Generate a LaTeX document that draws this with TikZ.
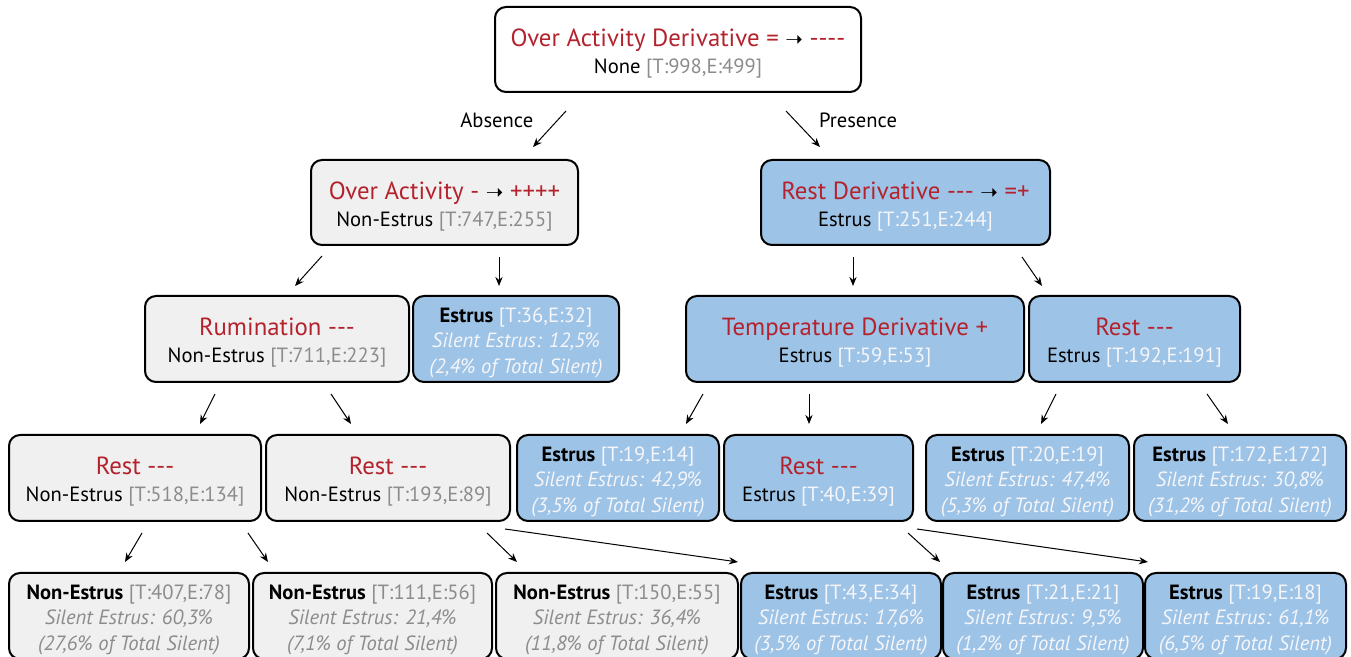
\documentclass[tikz,border=0pt]{standalone}
\usepackage{fontspec}
\setmainfont{PT Sans}
\newfontfamily\symfont{DejaVu Sans}
\usetikzlibrary{arrows.meta,calc}
\definecolor{tred}{RGB}{180,35,45}
\definecolor{gfill}{RGB}{240,240,240}
\definecolor{bfill}{RGB}{157,195,230}
\definecolor{gtext}{RGB}{140,140,140}
\definecolor{wtext}{RGB}{246,246,250}
\newcommand\arr{{\color{black}\symfont\fontsize{10.5}{10}\selectfont ➝}}
\newcommand\ttlfont{\fontsize{12.4}{13}\selectfont}
\newcommand\mthree{-{}-{}-}
\newcommand\mfour{-{}-{}-{}-}
\newcommand\tstrut{\rule{0pt}{12.8pt}}
\newcommand\lstrut{\rule{0pt}{11pt}}
% split node
\newcommand\gsplit[3]{{\ttlfont\color{tred}\tstrut#1}\\[0.75pt]#2 {\color{gtext}#3}}
\newcommand\bsplit[3]{{\ttlfont\color{tred}\tstrut#1}\\[0.75pt]#2 {\color{wtext}#3}}
\newcommand\gleaf[4]{\lstrut\textbf{#1} {\color{gtext}#2}\\{\color{gtext}\itshape #3}\\{\color{gtext}\itshape #4}}
\newcommand\bleaf[4]{\lstrut\textbf{#1} {\color{wtext}#2}\\{\color{wtext}\itshape #3}\\{\color{wtext}\itshape #4}}
\tikzset{
  box/.style={draw=black, line width=1pt, rounded corners=5.5pt, inner sep=0pt,
    align=center, font=\fontsize{10.3}{12.75}\selectfont},
  wbox/.style={box, fill=white},
  gbox/.style={box, fill=gfill},
  bbox/.style={box, fill=bfill},
  conn/.style={line width=0.5pt, -{Stealth[length=4.5pt,width=3.6pt]}},
  elab/.style={inner sep=0pt, font=\fontsize{10.3}{12}\selectfont}
}
\begin{document}
\begin{tikzpicture}[x=0.5pt,y=-0.5pt]
\useasboundingbox (0,0) rectangle (1351,657);
% root
\node[wbox, minimum width=183pt, minimum height=42.5pt] (root) at (678,49.5)
  {\gsplit{Over Activity Derivative = \arr{} \mfour}{None}{[T:998,E:499]}};
% level 1
\node[gbox, minimum width=133.5pt, minimum height=42.5pt] (oa) at (444.5,202.5)
  {\gsplit{Over Activity - \arr{} ++++}{Non-Estrus}{[T:747,E:255]}};
\node[bbox, minimum width=144.5pt, minimum height=42.5pt] (rd) at (905.5,202.5)
  {\bsplit{Rest Derivative \mthree{} \arr{} =+}{Estrus}{[T:251,E:244]}};
% level 2
\node[gbox, minimum width=132pt, minimum height=43pt] (rum) at (277,339)
  {\gsplit{Rumination \mthree}{Non-Estrus}{[T:711,E:223]}};
\node[bbox, minimum width=103pt, minimum height=43pt] (e36) at (516,339)
  {\bleaf{Estrus}{[T:36,E:32]}{Silent Estrus: 12,5\%}{(2,4\% of Total Silent)}};
\node[bbox, minimum width=169pt, minimum height=43pt] (td) at (855,339)
  {\bsplit{Temperature Derivative +}{Estrus}{[T:59,E:53]}};
\node[bbox, minimum width=105.5pt, minimum height=43pt] (r192) at (1134.5,339)
  {\bsplit{Rest \mthree}{Estrus}{[T:192,E:191]}};
% level 3
\node[gbox, minimum width=126pt, minimum height=43pt] (r518) at (135,478)
  {\gsplit{Rest \mthree}{Non-Estrus}{[T:518,E:134]}};
\node[gbox, minimum width=122pt, minimum height=43pt] (r193) at (388,478)
  {\gsplit{Rest \mthree}{Non-Estrus}{[T:193,E:89]}};
\node[bbox, minimum width=101pt, minimum height=43pt] (e19) at (618,478)
  {\bleaf{Estrus}{[T:19,E:14]}{Silent Estrus: 42,9\%}{(3,5\% of Total Silent)}};
\node[bbox, minimum width=94.5pt, minimum height=43pt] (r40) at (818.5,478)
  {\bsplit{Rest \mthree}{Estrus}{[T:40,E:39]}};
\node[bbox, minimum width=101.5pt, minimum height=43pt] (e20) at (1027.5,478)
  {\bleaf{Estrus}{[T:20,E:19]}{Silent Estrus: 47,4\%}{(5,3\% of Total Silent)}};
\node[bbox, minimum width=106pt, minimum height=43pt] (e172) at (1240,478)
  {\bleaf{Estrus}{[T:172,E:172]}{Silent Estrus: 30,8\%}{(31,2\% of Total Silent)}};
% level 4
\node[gbox, minimum width=120pt, minimum height=43pt] (ne407) at (129,616)
  {\gleaf{Non-Estrus}{[T:407,E:78]}{Silent Estrus: 60,3\%}{(27,6\% of Total Silent)}};
\node[gbox, minimum width=119.5pt, minimum height=43pt] (ne111) at (372.5,616)
  {\gleaf{Non-Estrus}{[T:111,E:56]}{Silent Estrus: 21,4\%}{(7,1\% of Total Silent)}};
\node[gbox, minimum width=121pt, minimum height=43pt] (ne150) at (617,616)
  {\gleaf{Non-Estrus}{[T:150,E:55]}{Silent Estrus: 36,4\%}{(11,8\% of Total Silent)}};
\node[bbox, minimum width=100pt, minimum height=43pt] (e43) at (841,616)
  {\bleaf{Estrus}{[T:43,E:34]}{Silent Estrus: 17,6\%}{(3,5\% of Total Silent)}};
\node[bbox, minimum width=100pt, minimum height=43pt] (e21) at (1043,616)
  {\bleaf{Estrus}{[T:21,E:21]}{Silent Estrus: 9,5\%}{(1,2\% of Total Silent)}};
\node[bbox, minimum width=100.5pt, minimum height=43pt] (e19b) at (1245.5,616)
  {\bleaf{Estrus}{[T:19,E:18]}{Silent Estrus: 61,1\%}{(6,5\% of Total Silent)}};
% connectors
\draw[conn] ($(root.south)+(-112,18)$) -- node[elab, pos=0.25, left=12pt]{Absence} ($(oa.north)+(88.5,-12)$);
\draw[conn] ($(root.south)+(108,18)$) -- node[elab, pos=0.25, right=12pt]{Presence} ($(rd.north)+(-85.5,-12)$);
\draw[conn] ($(oa.south)+(-122.5,10)$) -- ($(rum.north)+(18,-9)$);
\draw[conn] ($(oa.south)+(54.5,11)$) -- ($(e36.north)+(-17,-9)$);
\draw[conn] ($(rd.south)+(-52.5,11)$) -- ($(td.north)+(-2,-9)$);
\draw[conn] ($(rd.south)+(116.5,11)$) -- ($(r192.north)+(-92.5,-9)$);
\draw[conn] ($(rum.south)+(-62,11)$) -- ($(r518.north)+(65,-10)$);
\draw[conn] ($(rum.south)+(54,11)$) -- ($(r193.north)+(-37,-10)$);
\draw[conn] ($(td.south)+(-152,11)$) -- ($(e19.north)+(68,-10)$);
\draw[conn] ($(td.south)+(-46,11)$) -- ($(r40.north)+(-9.5,-10)$);
\draw[conn] ($(r192.south)+(-78.5,11)$) -- ($(e20.north)+(13.5,-10)$);
\draw[conn] ($(r192.south)+(72.5,11)$) -- ($(e172.north)+(-12,-10)$);
\draw[conn] ($(r518.south)+(7,11)$) -- ($(ne407.north)+(-4,-10)$);
\draw[conn] ($(r518.south)+(113,11)$) -- ($(ne111.north)+(-104.5,-10)$);
\draw[conn] ($(r193.south)+(99,11)$) -- ($(ne150.north)+(-100,-10)$);
\draw[conn] ($(r193.south)+(117,7)$) -- ($(e43.north)+(-103,-10)$);
\draw[conn] ($(r40.south)+(89.5,11)$) -- ($(e21.north)+(-103,-10)$);
\draw[conn] ($(r40.south)+(98.5,7)$) -- ($(e19b.north)+(-97.5,-10)$);
\end{tikzpicture}
\end{document}
